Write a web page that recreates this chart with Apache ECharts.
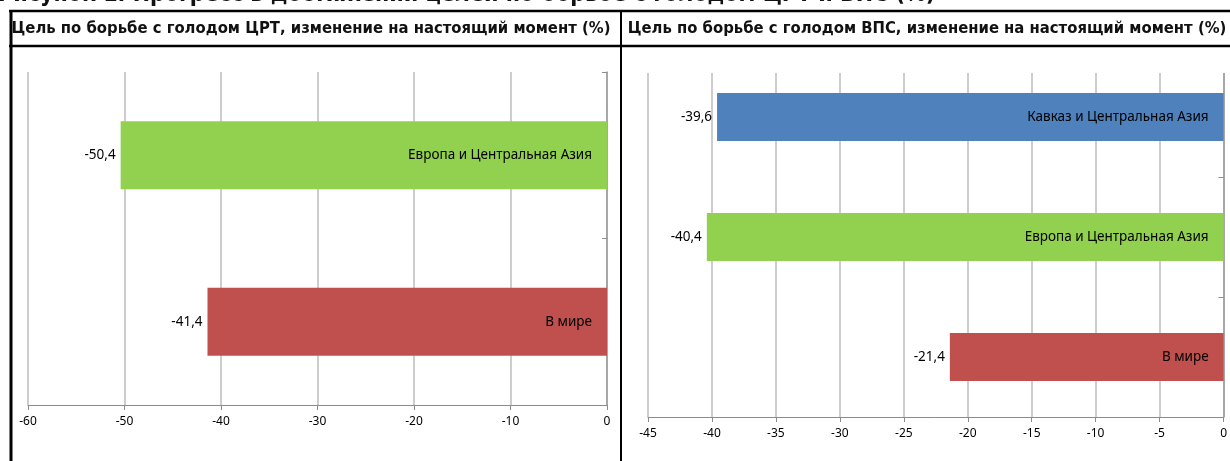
<!DOCTYPE html>
<html>
<head>
<meta charset="utf-8">
<script src="https://cdn.jsdelivr.net/npm/echarts@6/dist/echarts.min.js"></script>
<style>
  html, body { margin: 0; padding: 0; background: #fff; }
  #main { width: 1230px; height: 461px; }
</style>
</head>
<body>
<div id="main"></div>
<script>
// data
var figureTitle = 'Рисунок 1. Прогресс в достижении целей по борьбе с голодом ЦРТ и ВПС (%)';
var leftTitle = 'Цель по борьбе с голодом ЦРТ, изменение на настоящий момент (%)';
var rightTitle = 'Цель по борьбе с голодом ВПС, изменение на настоящий момент (%)';

var mdgCategories = ['В мире', 'Европа и Центральная Азия'];
var mdgValues = [-41.4, -50.4];

var wfsCategories = ['В мире', 'Европа и Центральная Азия', 'Кавказ и Центральная Азия'];
var wfsValues = [-21.4, -40.4, -39.6];

var regionColors = {
    'В мире': '#c0504d',
    'Европа и Центральная Азия': '#92d050',
    'Кавказ и Центральная Азия': '#4f81bd'
};

var labelFont = '"Noto Sans", sans-serif';
var headFont = '"DejaVu Sans Condensed", "DejaVu Sans", sans-serif';

function fmt(v) {
    return String(v).replace('.', ',');
}

function barSeries(idx, cats, vals, width) {
    return [
        {
            type: 'bar',
            xAxisIndex: idx,
            yAxisIndex: idx,
            barWidth: width,
            data: vals.map(function (v, i) {
                return {value: v, itemStyle: {color: regionColors[cats[i]]}};
            }),
            label: {
                show: true,
                position: 'left',
                distance: 5,
                color: '#000',
                fontSize: 13.5,
                fontFamily: labelFont,
                formatter: function (p) { return fmt(p.value); }
            },
            silent: true
        },
        {
            type: 'bar',
            xAxisIndex: idx,
            yAxisIndex: idx,
            barWidth: width,
            barGap: '-100%',
            itemStyle: {color: 'transparent'},
            data: vals,
            label: {
                show: true,
                position: 'insideRight',
                distance: 15,
                color: '#000',
                fontSize: 13.5,
                fontFamily: labelFont,
                formatter: function (p) { return cats[p.dataIndex]; }
            },
            silent: true,
            z: 3
        }
    ];
}

function valueAxis(idx, min, interval) {
    return {
        type: 'value',
        gridIndex: idx,
        min: min,
        max: 0,
        interval: interval,
        axisLine: {show: true, onZero: false, lineStyle: {color: '#8c8c8c', width: 1}},
        axisTick: {show: true, length: 5, lineStyle: {color: '#8c8c8c'}},
        splitLine: {show: true, lineStyle: {color: '#bcbcbc', width: 1.5}},
        axisLabel: {color: '#000', fontSize: 12, fontFamily: labelFont, margin: 11}
    };
}

function catAxis(idx, cats) {
    return {
        type: 'category',
        gridIndex: idx,
        position: 'right',
        data: cats,
        axisLine: {show: true, lineStyle: {color: '#9a9a9a', width: 1.5}},
        axisTick: {show: true, inside: true, length: 5, lineStyle: {color: '#8c8c8c'}},
        axisLabel: {show: false},
        splitLine: {show: false}
    };
}

var chart = echarts.init(document.getElementById('main'));

var option = {
    backgroundColor: '#fff',
    animation: false,
    grid: [
        {left: 28, right: 623, top: 72, bottom: 56},
        {left: 648, right: 4, top: 57, bottom: 44}
    ],
    xAxis: [valueAxis(0, -60, 10), valueAxis(1, -45, 5)],
    yAxis: [catAxis(0, mdgCategories), catAxis(1, wfsCategories)],
    series: barSeries(0, mdgCategories, mdgValues, 68).concat(barSeries(1, wfsCategories, wfsValues, 48)),
    graphic: [
        // plot area of the right chart starts lower than its category band
        {type: 'rect', z: 1, shape: {x: 630, y: 50, width: 600, height: 23}, style: {fill: '#fff'}},
        {type: 'text', left: -2, top: -16, z: 10,
            style: {text: figureTitle, fill: '#111', font: 'bold 23px ' + headFont}},
        {type: 'line', z: 10, shape: {x1: 9, y1: 11, x2: 1230, y2: 11}, style: {stroke: '#000', lineWidth: 2.5}},
        {type: 'line', z: 10, shape: {x1: 9, y1: 46, x2: 1230, y2: 46}, style: {stroke: '#000', lineWidth: 2.5}},
        {type: 'line', z: 10, shape: {x1: 11, y1: 10, x2: 11, y2: 461}, style: {stroke: '#000', lineWidth: 3}},
        {type: 'line', z: 10, shape: {x1: 621, y1: 10, x2: 621, y2: 461}, style: {stroke: '#000', lineWidth: 2}},
        {type: 'text', x: 311, y: 28.5, z: 10,
            style: {text: leftTitle, fill: '#111', font: 'bold 16.5px ' + headFont, align: 'center', verticalAlign: 'middle'}},
        {type: 'text', x: 927, y: 28.5, z: 10,
            style: {text: rightTitle, fill: '#111', font: 'bold 16.5px ' + headFont, align: 'center', verticalAlign: 'middle'}}
    ]
};

chart.setOption(option);
</script>
</body>
</html>
